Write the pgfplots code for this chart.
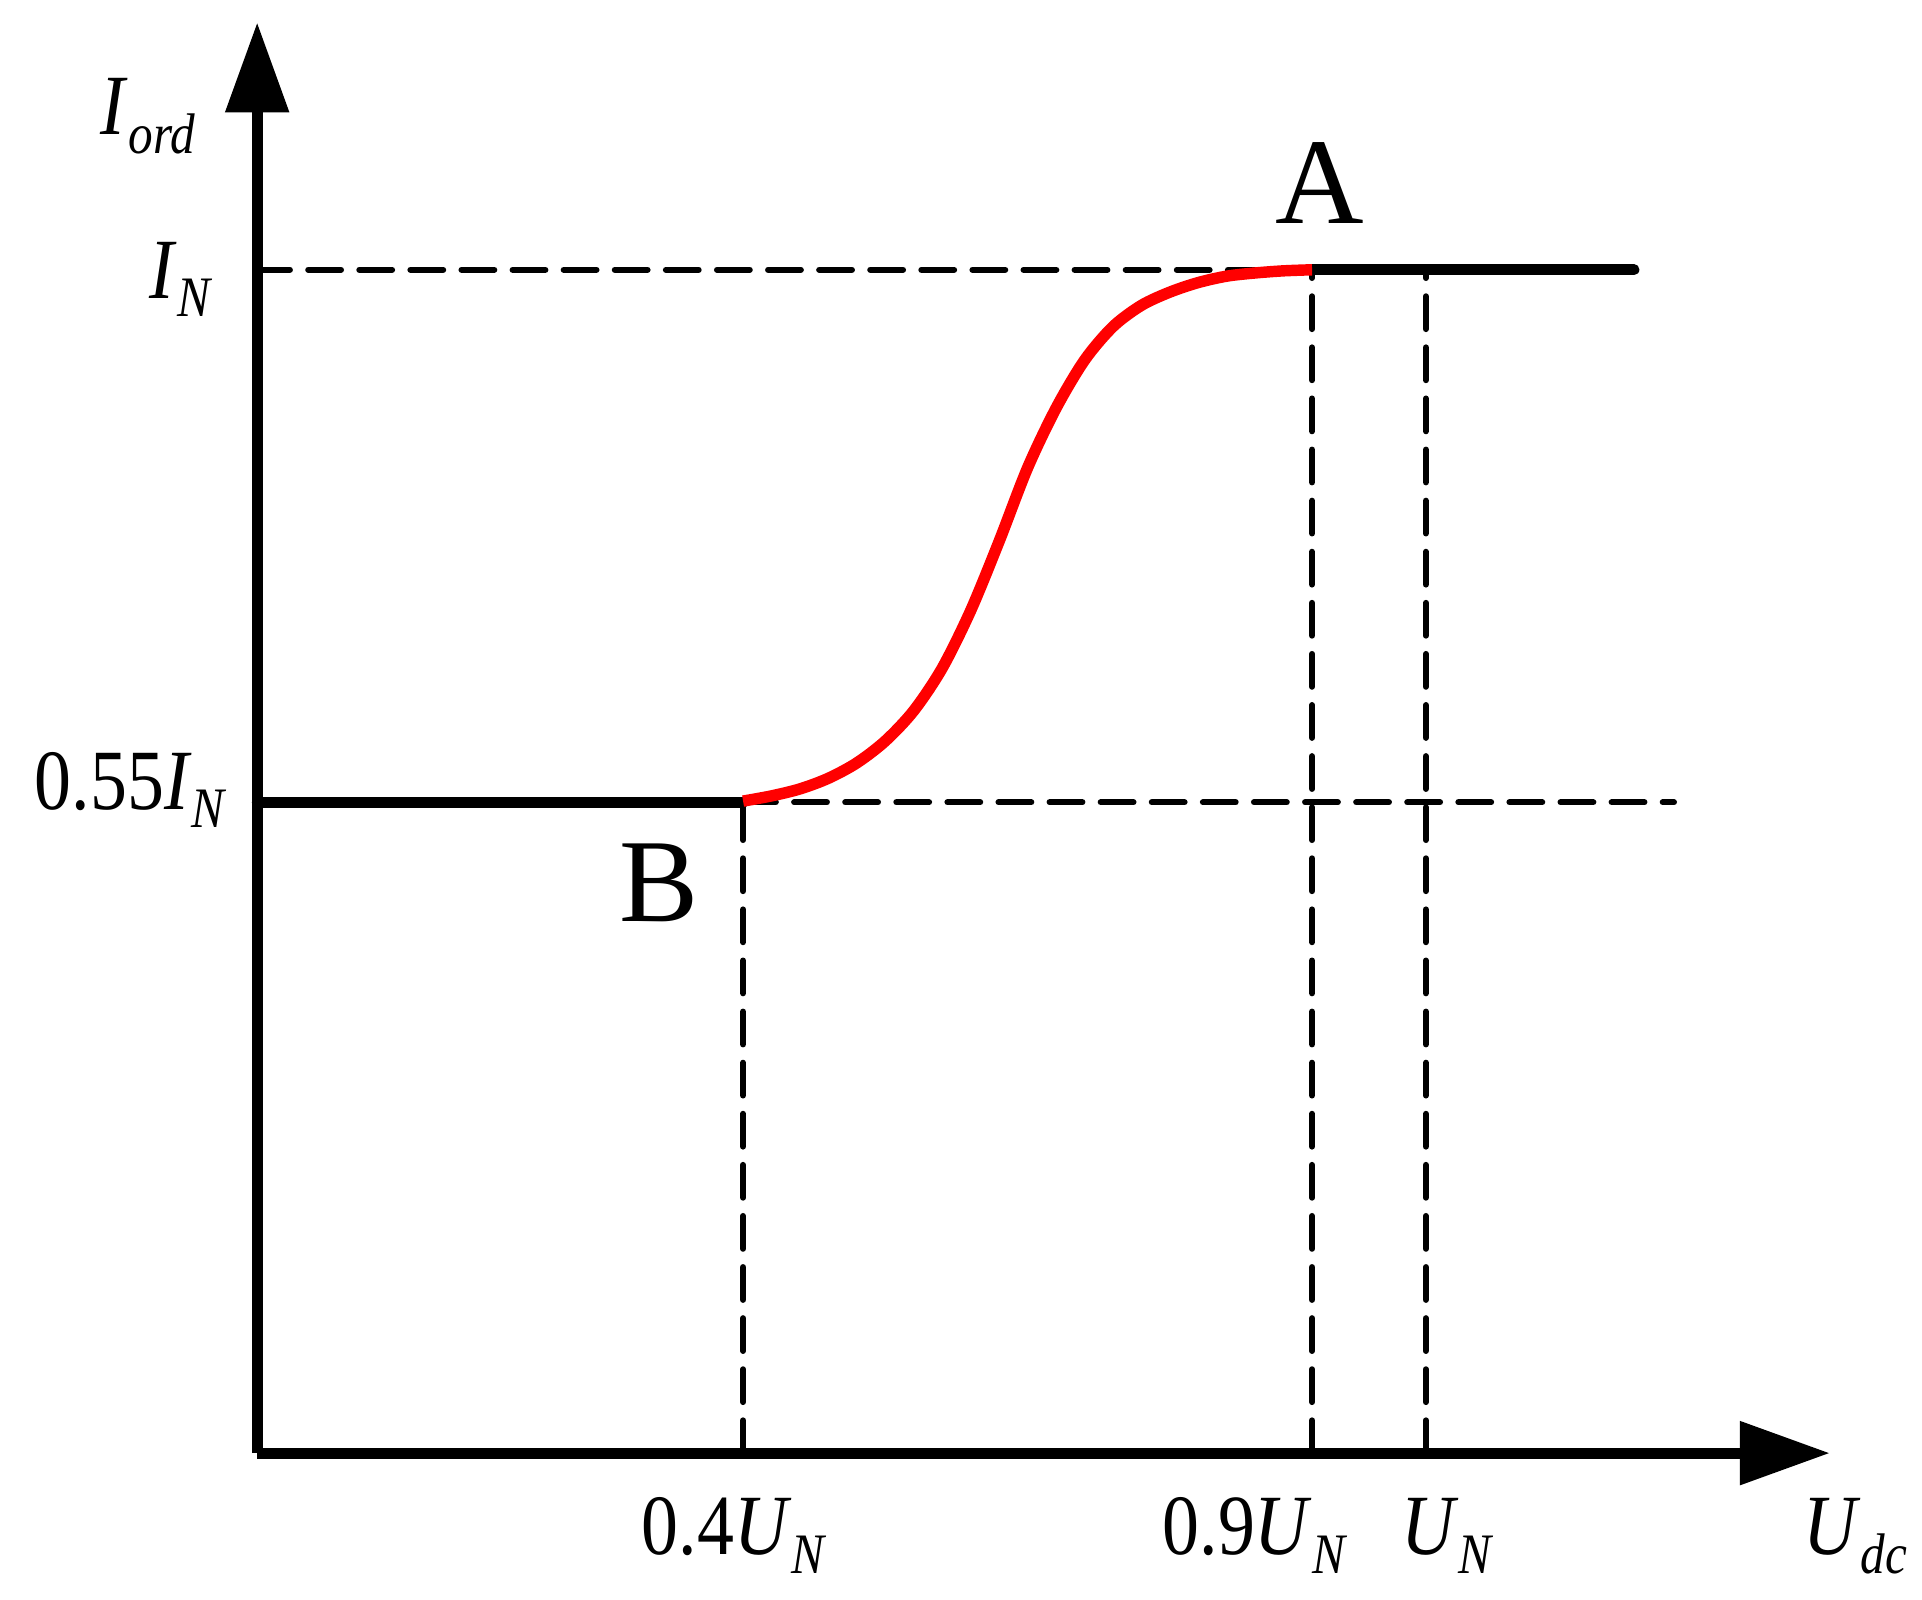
\documentclass[border=0pt]{standalone}
\usepackage{pgfplots}
\pgfplotsset{compat=1.18}
\usetikzlibrary{arrows.meta}
\usepackage{fontspec}
\setmainfont{Liberation Serif}
% condensed Times-like labels with a low subscript
\newcommand{\lbl}[2]{\textit{#1}\raisebox{-4.5pt}{\fontsize{14}{15}\selectfont\textit{#2}}}
\newcommand{\tx}[1]{\scalebox{0.86}[1]{\fontsize{21}{24}\selectfont #1}}
\begin{document}
\begin{tikzpicture}
\begin{axis}[
    x=278.4pt, y=289.5pt,
    xmin=-0.027, xmax=1.355,
    ymin=0, ymax=1.209,
    axis lines=left,
    axis line style={line width=2.7pt, -{Triangle[length=22pt,width=15pt]}},
    xtick=\empty, ytick=\empty,
    clip=false,
]
% guide lines
\addplot[black, line width=1.5pt, dash pattern=on 8pt off 4.5pt, line cap=round]
    coordinates {(-0.027,1) (0.9,1)};
\addplot[black, line width=1.5pt, dash pattern=on 8pt off 4.5pt, line cap=round]
    coordinates {(0.4,0.55) (1.218,0.55)};
\addplot[black, line width=1.5pt, dash pattern=on 8pt off 4.5pt, line cap=round]
    coordinates {(0.4,0) (0.4,0.55)};
\addplot[black, line width=1.5pt, dash pattern=on 8pt off 4.5pt, line cap=round]
    coordinates {(0.9,0) (0.9,1)};
\addplot[black, line width=1.5pt, dash pattern=on 8pt off 4.5pt, line cap=round]
    coordinates {(1.0,0) (1.0,1)};
% characteristic
\addplot[black, line width=2.6pt, line cap=round]
    coordinates {(-0.027,0.55) (0.4,0.55)};
\addplot[black, line width=2.6pt, line cap=round]
    coordinates {(0.9,1) (1.183,1)};
\addplot[red, line width=2.8pt, smooth]
    coordinates {(0.4,0.551) (0.425,0.5554) (0.45,0.5613) (0.475,0.5703)
    (0.5,0.5833) (0.525,0.6018) (0.55,0.6274) (0.575,0.6634) (0.6,0.712)
    (0.625,0.7705) (0.65,0.8326) (0.675,0.883) (0.7,0.9235) (0.725,0.9519)
    (0.75,0.9699) (0.775,0.9811) (0.8,0.9892) (0.825,0.9946) (0.85,0.9973)
    (0.875,0.9991) (0.9,1)};
% labels
\node[anchor=base west, inner sep=0] at (axis cs:-0.165,1.114) {\tx{\lbl{I}{ord}}};
\node[anchor=base west, inner sep=0] at (axis cs:-0.122,0.976) {\tx{\lbl{I}{N}}};
\node[anchor=base west, inner sep=0] at (axis cs:-0.223,0.544) {\tx{0.55\lbl{I}{N}}};
\node[anchor=base west, inner sep=0] at (axis cs:0.3103,-0.086) {\tx{0.4\lbl{U}{N}}};
\node[anchor=base west, inner sep=0] at (axis cs:0.768,-0.086) {\tx{0.9\lbl{U}{N}}};
\node[anchor=base west, inner sep=0] at (axis cs:0.978,-0.086) {\tx{\lbl{U}{N}}};
\node[anchor=base west, inner sep=0] at (axis cs:1.331,-0.086) {\tx{\lbl{U}{dc}}};
\node[anchor=base west, inner sep=0] at (axis cs:0.867,1.039) {\fontsize{30}{32}\selectfont A};
\node[anchor=base west, inner sep=0] at (axis cs:0.291,0.449) {\fontsize{29}{31}\selectfont B};
% page extent
\path (axis cs:-0.253,-0.124) rectangle (axis cs:1.436,1.228);
\end{axis}
\end{tikzpicture}
\end{document}
